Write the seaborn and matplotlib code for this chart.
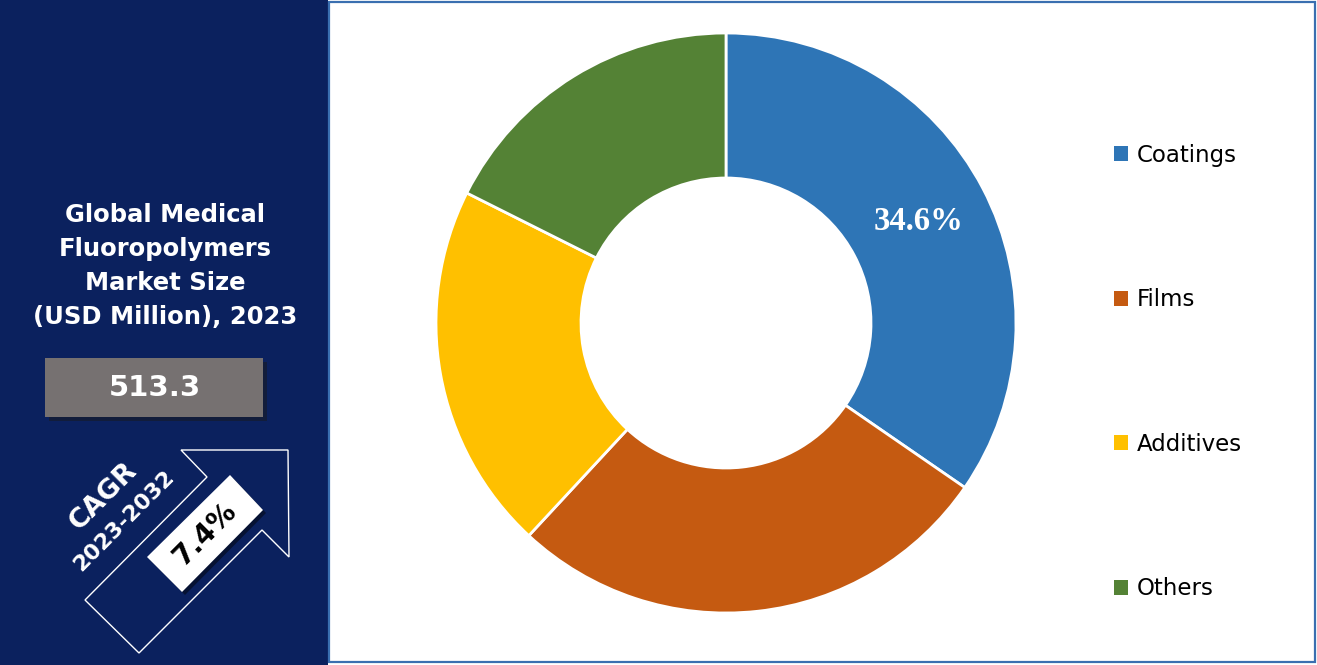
import matplotlib
matplotlib.use("Agg")
import matplotlib.pyplot as plt
import seaborn as sns
import numpy as np
from matplotlib.patches import Rectangle, Polygon

# data
segments = ["Coatings", "Films", "Additives", "Others"]
shares = [34.6, 27.3, 20.5, 17.6]
seg_colors = ["#2E75B6", "#C55A11", "#FFC000", "#548235"]
market_size = "513.3"
cagr = "7.4%"
title_lines = "Global Medical\nFluoropolymers\nMarket Size\n(USD Million), 2023"

W, H = 1317, 665
NAVY = "#0b215e"

sns.set_theme(style="white")
plt.rcParams["font.family"] = ["DejaVu Sans"]

fig = plt.figure(figsize=(W / 100, H / 100), dpi=100)
fig.patch.set_facecolor("white")


def fx(x):
    return x / W


def fy(y):
    return 1 - y / H


# left panel
fig.patches.append(Rectangle((0, 0), fx(328), 1, transform=fig.transFigure,
                             facecolor=NAVY, edgecolor="none", zorder=0))
# right panel border
fig.patches.append(Rectangle((fx(329), fy(662)), fx(1315) - fx(329), fy(2) - fy(662),
                             transform=fig.transFigure, facecolor="none",
                             edgecolor="#3A6FB0", linewidth=1.6, zorder=1))

fig.text(fx(165), fy(266), title_lines, ha="center", va="center", color="white",
         fontsize=17.5, fontweight="bold", linespacing=1.53)

# value box with shadow
fig.patches.append(Rectangle((fx(49), fy(421)), fx(263) - fx(45), fy(358) - fy(417),
                             transform=fig.transFigure, facecolor="#1a1a1a", alpha=0.5,
                             edgecolor="none", zorder=2))
fig.patches.append(Rectangle((fx(45), fy(417)), fx(263) - fx(45), fy(358) - fy(417),
                             transform=fig.transFigure, facecolor="#767171",
                             edgecolor="none", zorder=3))
fig.text(fx(155), fy(388), market_size, ha="center", va="center", color="white",
         fontsize=21, fontweight="bold", zorder=4)

# CAGR arrow outline
arrow_px = [(85, 600), (139, 653), (262, 530), (289, 557), (288, 450),
            (181, 450), (207, 477)]
arrow_pts = [(fx(x), fy(y)) for x, y in arrow_px]
fig.patches.append(Polygon(arrow_pts, closed=True, transform=fig.transFigure,
                           facecolor="none", edgecolor="white", linewidth=1.0, zorder=3))

# rotated white badge
box_px = [(147, 557), (230, 475), (263, 510), (182, 592)]
shadow_px = [(x + 3, y + 3) for x, y in box_px]
fig.patches.append(Polygon([(fx(x), fy(y)) for x, y in shadow_px], closed=True,
                           transform=fig.transFigure, facecolor="#000000", alpha=0.45,
                           edgecolor="none", zorder=3))
fig.patches.append(Polygon([(fx(x), fy(y)) for x, y in box_px], closed=True,
                           transform=fig.transFigure, facecolor="white",
                           edgecolor="none", zorder=4))
fig.text(fx(205), fy(534), cagr, ha="center", va="center", color="black",
         fontsize=20, fontweight="bold", rotation=45, rotation_mode="anchor", zorder=5)
fig.text(fx(103), fy(496), "CAGR", ha="center", va="center", color="white",
         fontsize=19.5, fontweight="bold", rotation=45, rotation_mode="anchor", zorder=5)
fig.text(fx(124), fy(521), "2023-2032", ha="center", va="center", color="white",
         fontsize=16, fontweight="bold", rotation=45, rotation_mode="anchor", zorder=5)

# donut
cx, cy, half = 726, 323, 300
ax = fig.add_axes([fx(cx - half), fy(cy + half), 2 * half / W, 2 * half / H])
lim = half / 290
wedges, _ = ax.pie(shares, colors=seg_colors, startangle=90, counterclock=False,
                   radius=1.0, wedgeprops=dict(width=0.5, edgecolor="white", linewidth=2))
ax.set_xlim(-lim, lim)
ax.set_ylim(-lim, lim)
ax.set_aspect("equal")
ax.axis("off")

w0 = wedges[0]
mid = np.deg2rad((w0.theta1 + w0.theta2) / 2)
ax.text(0.75 * np.cos(mid), 0.75 * np.sin(mid), f"{shares[0]}%", ha="center", va="center",
        color="white", fontsize=23.5, fontweight="bold", family=["Liberation Serif"])

leg = fig.legend(wedges, segments, loc="center left",
                 bbox_to_anchor=(fx(1093), fy(372)), frameon=False,
                 fontsize=16.5, handlelength=0.62, handleheight=0.62,
                 labelspacing=5.3, handletextpad=0.38)
for t in leg.get_texts():
    t.set_color("black")
for h in leg.legend_handles:
    h.set_edgecolor("none")

fig.savefig("out.png", dpi=100, facecolor="white")
